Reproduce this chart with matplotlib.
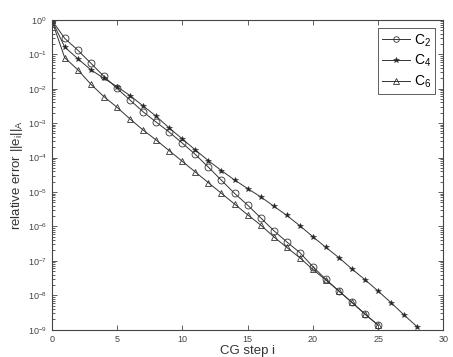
import numpy as np
import matplotlib
matplotlib.use("Agg")
import matplotlib.pyplot as plt

plt.rcParams["font.family"] = ["Liberation Sans", "DejaVu Sans"]
plt.rcParams["mathtext.fontset"] = "custom"
plt.rcParams["mathtext.rm"] = "Liberation Sans"
plt.rcParams["mathtext.it"] = "Liberation Sans"

# log10 of the relative error
steps_c2 = list(range(0, 26))
log_c2 = [0.0, -0.54, -0.88, -1.26, -1.64, -1.99, -2.33, -2.67, -2.97, -3.26,
          -3.58, -3.91, -4.28, -4.66, -5.04, -5.38, -5.75, -6.12, -6.45, -6.76,
          -7.17, -7.54, -7.88, -8.21, -8.55, -8.87]

steps_c4 = list(range(0, 29))
log_c4 = [0.0, -0.79, -1.13, -1.45, -1.70, -1.94, -2.20, -2.50, -2.80, -3.14,
          -3.46, -3.78, -4.09, -4.38, -4.65, -4.90, -5.14, -5.41, -5.68, -5.98,
          -6.30, -6.61, -6.91, -7.24, -7.55, -7.88, -8.22, -8.58, -8.92]

steps_c6 = list(range(0, 26))
log_c6 = [0.0, -1.10, -1.45, -1.87, -2.23, -2.54, -2.88, -3.20, -3.49, -3.80,
          -4.11, -4.42, -4.73, -5.04, -5.35, -5.66, -5.96, -6.30, -6.61, -6.91,
          -7.25, -7.56, -7.88, -8.21, -8.55, -8.87]

fig = plt.figure(figsize=(4.53, 3.57), dpi=100)
ax = fig.add_axes([0.114, 0.0765, 0.865, 0.868])

line_kw = dict(color="#333333", linewidth=0.7)
ax.semilogy(steps_c2, 10.0 ** np.array(log_c2), marker="o", markersize=5,
            markerfacecolor="none", markeredgewidth=0.6, label=r"C$_2$", **line_kw)
ax.semilogy(steps_c4, 10.0 ** np.array(log_c4), marker="*", markersize=4,
            markerfacecolor="#222222", markeredgewidth=0.4, label=r"C$_4$", **line_kw)
ax.semilogy(steps_c6, 10.0 ** np.array(log_c6), marker="^", markersize=5,
            markerfacecolor="none", markeredgewidth=0.6, label=r"C$_6$", **line_kw)

ax.set_xlim(0, 30)
ax.set_ylim(1e-9, 1)
ax.set_xticks([0, 5, 10, 15, 20, 25, 30])
ax.set_yticks([10.0 ** k for k in range(-9, 1)])
ax.tick_params(which="both", direction="in", top=True, right=True,
               labelsize=6.5, colors="#444444", width=0.6)
ax.tick_params(which="major", length=3.5)
ax.tick_params(which="minor", length=2)
for s in ax.spines.values():
    s.set_linewidth(0.8)
    s.set_color("#444444")

ax.set_xlabel("CG step i", fontsize=9.5, color="#333333", labelpad=1)
ax.set_ylabel(r"relative error ||e$_i$||$_A$", fontsize=9.5, color="#333333", labelpad=2)

leg = ax.legend(loc="upper right", fontsize=10, frameon=True, fancybox=False,
                edgecolor="#333333", handlelength=2.0, handletextpad=0.3,
                borderpad=0.3, labelspacing=0.3, borderaxespad=0.6)
leg.get_frame().set_linewidth(0.7)
for h in leg.legend_handles:
    h.set_markersize(4)

fig.savefig("out.png", dpi=100)
